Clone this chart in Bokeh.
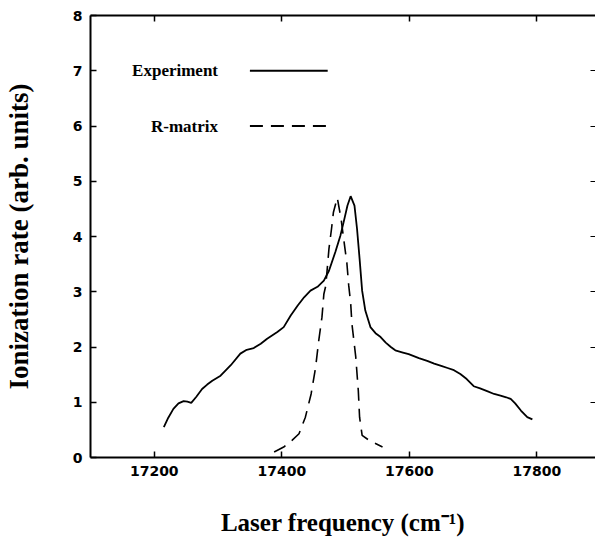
from bokeh.plotting import figure
from bokeh.models import Range1d, LinearAxis, FixedTicker, CustomLabelingPolicy
from bokeh.core.properties import value
from bokeh.embed import file_html
from bokeh.resources import INLINE

# Experiment curve
exp_x = [17215, 17222, 17230, 17238, 17246, 17252, 17258, 17266, 17275, 17283,
         17291, 17304, 17320, 17335, 17345, 17356, 17367, 17377, 17393, 17403,
         17414, 17425, 17435, 17445, 17456, 17466, 17474, 17484, 17492, 17497,
         17503, 17508, 17514, 17518, 17522, 17526, 17531, 17539, 17547, 17555,
         17563, 17571, 17578, 17590, 17599, 17615, 17628, 17639, 17650, 17660,
         17670, 17680, 17690, 17701, 17711, 17722, 17733, 17743, 17752, 17759,
         17766, 17775, 17785, 17793]
exp_y = [0.55, 0.72, 0.88, 0.98, 1.02, 1.01, 0.99, 1.10, 1.24, 1.32,
         1.39, 1.48, 1.67, 1.88, 1.95, 1.98, 2.06, 2.15, 2.27, 2.36,
         2.57, 2.75, 2.90, 3.02, 3.09, 3.20, 3.38, 3.72, 4.02, 4.26,
         4.56, 4.73, 4.56, 4.14, 3.60, 3.02, 2.66, 2.36, 2.25, 2.18,
         2.08, 2.00, 1.94, 1.90, 1.87, 1.80, 1.75, 1.70, 1.66, 1.62,
         1.58, 1.51, 1.42, 1.29, 1.25, 1.20, 1.15, 1.12, 1.09, 1.06,
         0.98, 0.85, 0.73, 0.69]

# R-matrix curve
rm_x = [17388, 17403, 17416, 17427, 17437, 17446, 17453, 17458, 17463, 17466,
        17469, 17474, 17478, 17481, 17487, 17493, 17497, 17502, 17505, 17508,
        17510, 17516, 17520, 17522, 17526, 17537, 17558]
rm_y = [0.10, 0.19, 0.31, 0.43, 0.73, 1.15, 1.63, 2.12, 2.54, 2.96,
        3.11, 3.78, 4.14, 4.44, 4.70, 4.32, 3.96, 3.53, 3.11, 2.80,
        2.42, 1.82, 1.21, 0.73, 0.40, 0.31, 0.19]

x_ticks = [17200, 17400, 17600, 17800]
y_ticks = [0, 1, 2, 3, 4, 5, 6, 7, 8]
legend_labels = ["Experiment", "R-matrix"]
x_title = "Laser frequency (cm\u207b\u00b9)"
y_title = "Ionization rate (arb. units)"

p = figure(width=595, height=538, output_backend="svg", toolbar_location=None,
           x_range=Range1d(17100, 17892), y_range=Range1d(0, 8),
           x_axis_location=None, y_axis_location=None,
           min_border_left=90, min_border_top=15, min_border_right=0,
           min_border_bottom=81)
p.outline_line_color = None
p.grid.grid_line_color = None
p.background_fill_color = "white"
p.border_fill_color = "white"

tick_font = dict(major_label_text_font="DejaVu Sans", major_label_text_font_style="bold",
                 major_label_text_font_size="14px", major_label_text_color="black")
title_font = dict(axis_label_text_font="Liberation Serif", axis_label_text_font_style="bold",
                  axis_label_text_color="black")

left = LinearAxis(ticker=FixedTicker(ticks=y_ticks), axis_label=y_title,
                  major_tick_in=6, major_tick_out=0, minor_tick_line_color=None,
                  major_label_standoff=8, axis_label_standoff=36, axis_line_width=2,
                  major_tick_line_width=1.5, axis_label_text_font_size="27px",
                  **title_font, **tick_font)
p.add_layout(left, "left")

below = LinearAxis(ticker=FixedTicker(ticks=x_ticks), axis_label=x_title,
                   major_tick_in=6, major_tick_out=0, minor_tick_line_color=None,
                   major_label_standoff=8, axis_label_standoff=30, axis_line_width=2,
                   major_tick_line_width=1.5, axis_label_text_font_size="25px",
                   **title_font, **tick_font)
p.add_layout(below, "below")

no_labels = "return []"
above = LinearAxis(ticker=FixedTicker(ticks=x_ticks), major_tick_in=6, major_tick_out=0,
                   minor_tick_line_color=None, major_label_text_font_size="0px",
                   major_label_policy=CustomLabelingPolicy(code=no_labels),
                   major_label_standoff=0, axis_line_width=2, major_tick_line_width=1.5)
p.add_layout(above, "above")

right = LinearAxis(ticker=FixedTicker(ticks=y_ticks), major_tick_in=5, major_tick_out=0,
                   minor_tick_line_color=None, major_label_text_font_size="0px",
                   major_label_policy=CustomLabelingPolicy(code=no_labels),
                   major_label_standoff=0, axis_line_color=None, major_tick_line_width=1.2)
p.add_layout(right, "right")

p.line(exp_x, exp_y, line_color="black", line_width=1.8)
p.line(rm_x, rm_y, line_color="black", line_width=1.6, line_dash="13 8")

# legend drawn inside the frame
p.text(x=[17300, 17300], y=[7, 6], text=legend_labels, text_align="right",
       text_baseline="middle", text_font=value("Liberation Serif"),
       text_font_style="bold", text_font_size="17px", text_color="black")
p.line([17350, 17472], [7, 7], line_color="black", line_width=1.8)
p.line([17350, 17472], [6, 6], line_color="black", line_width=1.8, line_dash="13 8")

open("out.html", "w").write(file_html(p, INLINE))
